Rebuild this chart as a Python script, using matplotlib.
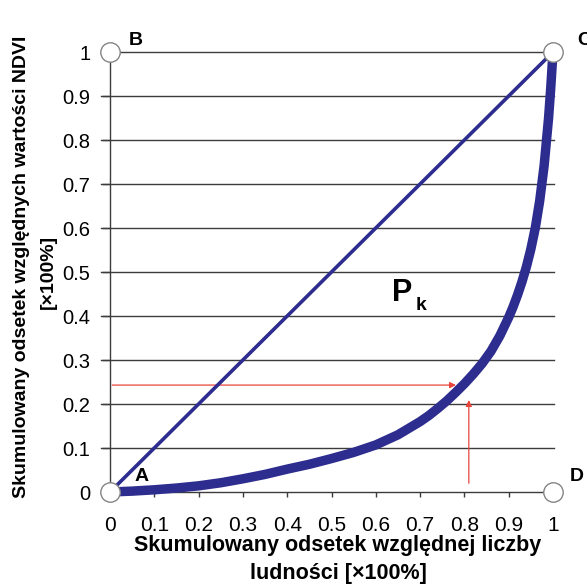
import numpy as np
from matplotlib import pyplot as plt

# krzywa koncentracji (odczyt z wykresu)
lorenz_x = [0, 0.05, 0.1, 0.15, 0.2, 0.25, 0.3, 0.35, 0.4, 0.45, 0.5, 0.55, 0.6, 0.65,
            0.7, 0.72, 0.74, 0.76, 0.78, 0.8, 0.82, 0.84, 0.86, 0.88, 0.9, 0.91, 0.92,
            0.93, 0.94, 0.95, 0.96, 0.97, 0.98, 0.99, 0.995, 1.0]
lorenz_y = [0, 0.002, 0.005, 0.009, 0.014, 0.021, 0.03, 0.04, 0.052, 0.063, 0.076, 0.09,
            0.107, 0.13, 0.16, 0.174, 0.19, 0.207, 0.226, 0.246, 0.268, 0.292, 0.32, 0.355,
            0.397, 0.421, 0.448, 0.478, 0.512, 0.552, 0.6, 0.662, 0.742, 0.85, 0.92, 1.0]
diag_x = [0, 1]
diag_y = [0, 1]

ticks = [0, 0.1, 0.2, 0.3, 0.4, 0.5, 0.6, 0.7, 0.8, 0.9, 1]
ticklabels = ['0', '0.1', '0.2', '0.3', '0.4', '0.5', '0.6', '0.7', '0.8', '0.9', '1']

corner_x = [0, 0, 1, 1]
corner_y = [0, 1, 1, 0]
corner_names = ['A', 'B', 'C', 'D']

arrow_y = 0.243      # poziom strzalki poziomej
arrow_x = 0.81       # polozenie strzalki pionowej

plt.rcParams['font.family'] = ['Liberation Sans', 'DejaVu Sans']

navy = '#2d2c8f'
gridc = '#3c3c3c'
red = '#e8453c'

fig = plt.figure(figsize=(5.87, 5.86), dpi=100)
ax = fig.add_axes([110/587, 1-492/586, 443/587, 440/586])
ax.set_xlim(0, 1)
ax.set_ylim(0, 1)

# linie poziome
for t in ticks[1:-1]:
    ax.plot([-0.02, 1.003], [t, t], color=gridc, lw=1.0, clip_on=False, zorder=1)
ax.plot([0, 1], [1, 1], color=gridc, lw=1.0, clip_on=False, zorder=1)

for s in ['top', 'right']:
    ax.spines[s].set_visible(False)
for s in ['left', 'bottom']:
    ax.spines[s].set_color(gridc)
    ax.spines[s].set_linewidth(1.0)

ax.set_xticks(ticks)
ax.set_xticklabels(ticklabels)
ax.set_yticks(ticks)
ax.set_yticklabels(ticklabels)
ax.tick_params(axis='x', direction='out', length=3.5, width=1.0, color=gridc, pad=14, labelsize=15)
ax.tick_params(axis='y', direction='out', length=6, width=1.0, color=gridc, pad=8, labelsize=14.5)

# linia rownomiernego rozkladu i krzywa
ax.plot(diag_x, diag_y, color=navy, lw=2.6, clip_on=False, zorder=3, solid_capstyle='round')
ax.plot(lorenz_x, lorenz_y, color=navy, lw=6.8, clip_on=False, zorder=3,
        solid_capstyle='round', solid_joinstyle='round')

# strzalki
ax.annotate('', xy=(0.781, arrow_y), xytext=(0.005, arrow_y),
            arrowprops=dict(arrowstyle='-|>', color=red, lw=0.9, mutation_scale=9,
                            shrinkA=0, shrinkB=0), zorder=2)
ax.annotate('', xy=(arrow_x, 0.209), xytext=(arrow_x, 0.02),
            arrowprops=dict(arrowstyle='-|>', color=red, lw=0.9, mutation_scale=9,
                            shrinkA=0, shrinkB=0), zorder=2)

# kolka w narozach
ax.plot(corner_x, corner_y, 'o', ms=14, mfc='white', mec='#858585', mew=1.0,
        clip_on=False, zorder=5, ls='none')

ax.text(0.072, 0.036, corner_names[0], fontsize=14, fontweight='bold', ha='center', va='center')
ax.text(0.059, 1.027, corner_names[1], fontsize=14, fontweight='bold', ha='center', va='center', clip_on=False)
ax.text(1.054, 1.027, corner_names[2], fontsize=14, fontweight='bold', ha='left', va='center', clip_on=False)
ax.text(1.038, 0.036, corner_names[3], fontsize=14, fontweight='bold', ha='left', va='center', clip_on=False)

ax.text(0.637, 0.453, 'P', fontsize=22, fontweight='bold', ha='left', va='center')
ax.text(0.690, 0.423, 'k', fontsize=14, fontweight='bold', ha='left', va='center')

fig.text(338/587, 1-545/586, 'Skumulowany odsetek względnej liczby', fontsize=15.5,
         fontweight='bold', ha='center', va='center')
fig.text(338/587, 1-574/586, 'ludności [×100%]', fontsize=15.5,
         fontweight='bold', ha='center', va='center')
fig.text(22/587, 1-267/586, 'Skumulowany odsetek względnych wartości NDVI', fontsize=14,
         fontweight='bold', ha='center', va='center', rotation=90)
fig.text(48/587, 1-272/586, '[×100%]', fontsize=14,
         fontweight='bold', ha='center', va='center', rotation=90)

plt.savefig('out.png', dpi=100)
